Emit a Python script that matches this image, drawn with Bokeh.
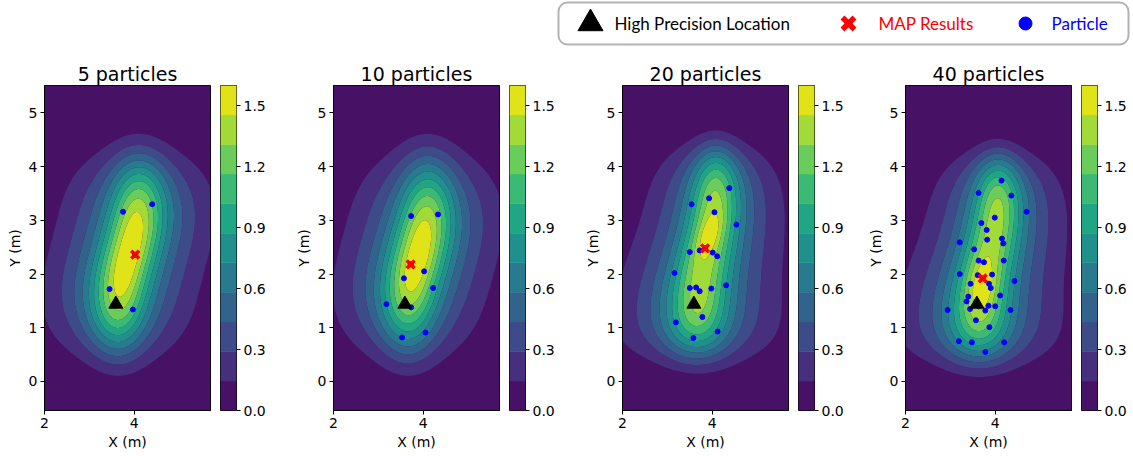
import numpy as np
from bokeh.plotting import figure
from bokeh.layouts import row, column
from bokeh.models import Range1d, FixedTicker, BoxAnnotation, PrintfTickFormatter
from bokeh.embed import file_html
from bokeh.resources import INLINE
from bokeh.palettes import Viridis256
from bokeh.core.properties import value

# ---------------- data ----------------
titles = ["5 particles", "10 particles", "20 particles", "40 particles"]

truth_x = [3.59]
truth_y = [1.44]

map_x = [4.02, 3.72, 3.84, 3.72]
map_y = [2.36, 2.18, 2.48, 1.92]

p5_x = [3.75, 4.40, 3.45, 3.97, 4.02]
p5_y = [3.16, 3.30, 1.72, 1.34, 2.36]

p10_x = [3.73, 4.33, 4.02, 3.57, 4.22, 3.18, 3.73, 4.05, 3.53, 3.72]
p10_y = [3.08, 3.11, 2.05, 1.92, 1.74, 1.44, 1.38, 0.91, 0.82, 2.18]

p20_x = [4.38, 3.93, 3.54, 4.05, 4.54, 3.50, 3.72, 4.01, 4.11, 3.16,
         4.31, 3.50, 3.64, 3.72, 3.98, 3.78, 3.19, 4.12, 3.58, 3.84]
p20_y = [3.60, 3.41, 3.30, 3.15, 2.92, 2.41, 2.44, 2.40, 2.33, 2.02,
         1.79, 1.74, 1.75, 1.68, 1.73, 1.20, 1.10, 0.93, 0.81, 2.48]

p40_x = [4.14, 3.63, 4.36, 4.70, 3.99, 3.69, 3.81, 3.82, 4.15, 4.18,
         3.21, 3.53, 3.63, 3.75, 4.19, 3.21, 3.61, 3.93, 3.45, 3.86,
         3.90, 4.43, 3.40, 3.36, 4.11, 3.44, 3.85, 4.00, 3.78, 2.94,
         4.34, 3.57, 3.87, 3.19, 3.48, 4.20, 3.78, 3.72, 3.58, 3.63]
p40_y = [3.74, 3.51, 3.46, 3.16, 3.05, 2.95, 2.82, 2.64, 2.66, 2.57,
         2.59, 2.46, 2.25, 2.22, 2.25, 2.00, 1.98, 1.99, 1.82, 1.82,
         1.74, 1.87, 1.58, 1.49, 1.60, 1.35, 1.41, 1.40, 1.32, 1.33,
         1.33, 1.14, 1.01, 0.75, 0.73, 0.73, 0.55, 1.92, 1.47, 1.40]

particles_x = [p5_x, p10_x, p20_x, p40_x]
particles_y = [p5_y, p10_y, p20_y, p40_y]

# posterior density description (per panel): elongated ridge + small peak bump
peak_density = 1.6
ridge_cx = [3.87, 3.88, 3.87, 3.85]
ridge_cy = [2.37, 2.33, 2.41, 2.30]
ridge_tilt = [0.30, 0.28, 0.25, 0.27]
ridge_tilt_len = [1.6, 1.6, 1.7, 1.6]
ridge_a_up = [1.92, 2.08, 1.92, 1.88]
ridge_a_down = [1.94, 2.03, 1.92, 1.88]
ridge_p = [4.0, 4.0, 5.0, 5.0]
ridge_c = [0.4, 0.8, 0.0, 0.0]
ridge_w = [1.0, 1.0, 0.88, 0.88]
ridge_taper = [0.0, 0.0, 0.1, 0.1]
bump_cx = [3.87, 3.88, 3.92, 3.70]
bump_cy = [2.37, 2.33, 2.72, 1.76]
bump_tilt = [0.0, 0.0, 0.37, 0.10]
bump_su = [0.30, 0.30, 0.28, 0.34]
bump_sv = [0.20, 0.20, 0.18, 0.22]
bump_w = [0.0, 0.0, 0.12, 0.13]
spread_w = 0.55
spread_s1 = 0.42
spread_s2 = 1.0

levels = [0.0, 0.145, 0.291, 0.436, 0.582, 0.727, 0.873, 1.018, 1.164, 1.309, 1.455, 1.6]
cbar_ticks = [0.0, 0.3, 0.6, 0.9, 1.2, 1.5]
x_ticks = [2, 4]
y_ticks = [0, 1, 2, 3, 4, 5]
x_lim = (2.0, 5.7)
y_lim = (-0.54, 5.51)

# ---------------- styling ----------------
nb = len(levels) - 1
band_colors = [Viridis256[int(round((i + 0.5) / nb * 255))] for i in range(nb)]
FONT = "DejaVu Sans"


def density(k, X, Y):
    dy = Y - ridge_cy[k]
    xc = ridge_cx[k] + ridge_tilt[k] * dy / (1 + (dy / ridge_tilt_len[k]) ** 2)
    scale = np.clip(1 - ridge_taper[k] * dy, 0.5, 2.0)
    v = (X - xc) / scale
    a = np.where(dy > 0, ridge_a_up[k], ridge_a_down[k])
    s = np.abs(dy) / a
    U = np.exp(-(s ** ridge_p[k] + ridge_c[k] * s ** 2))
    V = spread_w * np.exp(-v ** 2 / (2 * spread_s1 ** 2)) + \
        (1 - spread_w) * np.exp(-v ** 2 / (2 * spread_s2 ** 2))
    dyb = Y - bump_cy[k]
    vb = X - bump_cx[k] - bump_tilt[k] * dyb
    B = np.exp(-0.5 * ((dyb / bump_su[k]) ** 2 + (vb / bump_sv[k]) ** 2))
    return peak_density * (ridge_w[k] * U * V + bump_w[k] * B)


xs = np.linspace(x_lim[0], x_lim[1], 240)
ys = np.linspace(y_lim[0], y_lim[1], 380)
XX, YY = np.meshgrid(xs, ys)

left_borders = [44, 44, 44, 44]
cbar_right = [53, 53, 47, 36]

children = []
for k in range(4):
    p = figure(frame_width=166, frame_height=325,
               x_range=Range1d(*x_lim), y_range=Range1d(*y_lim),
               toolbar_location=None, output_backend="svg",
               min_border_left=left_borders[k], min_border_right=10,
               min_border_top=35, min_border_bottom=46,
               background_fill_color=band_colors[0])
    Z = np.clip(density(k, XX, YY), 0.0, levels[-1] - 1e-4)
    p.contour(x=xs, y=ys, z=Z, levels=levels, fill_color=band_colors, line_color=None)
    p.scatter(particles_x[k], particles_y[k], marker="circle", size=5,
              fill_color="blue", line_color="blue")
    p.scatter(truth_x, truth_y, marker="triangle", size=14,
              fill_color="black", line_color="black")
    p.scatter([map_x[k]], [map_y[k]], marker="x", size=11, line_width=3.5,
              line_color="red")

    p.title.text = titles[k]
    p.title.align = "center"
    p.title.text_font = FONT
    p.title.text_font_size = "19px"
    p.title.text_font_style = "normal"
    p.title.text_color = "black"
    p.title.standoff = 2

    p.grid.visible = False
    p.outline_line_color = "black"
    p.outline_line_width = 1
    p.xaxis.ticker = FixedTicker(ticks=x_ticks)
    p.yaxis.ticker = FixedTicker(ticks=y_ticks)
    p.xaxis.axis_label = "X (m)"
    p.yaxis.axis_label = "Y (m)"
    for ax in (p.xaxis[0], p.yaxis[0]):
        ax.major_label_text_font = FONT
        ax.major_label_text_font_size = "14px"
        ax.major_label_text_color = "black"
        ax.axis_label_text_font = FONT
        ax.axis_label_text_font_size = "14px"
        ax.axis_label_text_font_style = "normal"
        ax.axis_label_text_color = "black"
        ax.major_tick_out = 4
        ax.major_tick_in = 0
        ax.minor_tick_out = 0
        ax.minor_tick_in = 0
        ax.major_tick_line_color = "black"
        ax.axis_line_color = "black"
        ax.major_label_standoff = 3
        ax.axis_label_standoff = 3

    # colour bar
    c = figure(frame_width=16, frame_height=325,
               x_range=Range1d(0, 1), y_range=Range1d(levels[0], levels[-1]),
               toolbar_location=None, output_backend="svg",
               x_axis_location=None, y_axis_location="right",
               min_border_left=0, min_border_right=cbar_right[k],
               min_border_top=35, min_border_bottom=46)
    c.quad(left=0, right=1, bottom=levels[:-1], top=levels[1:],
           fill_color=band_colors, line_color=band_colors, line_width=0.5)
    c.grid.visible = False
    c.outline_line_color = "black"
    c.outline_line_width = 1
    ya = c.yaxis[0]
    ya.ticker = FixedTicker(ticks=cbar_ticks)
    ya.formatter = PrintfTickFormatter(format="%.1f")
    ya.major_label_text_font = FONT
    ya.major_label_text_font_size = "14px"
    ya.major_label_text_color = "black"
    ya.major_tick_out = 4
    ya.major_tick_in = 0
    ya.minor_tick_out = 0
    ya.minor_tick_in = 0
    ya.major_tick_line_color = "black"
    ya.axis_line_color = None
    ya.major_label_standoff = 3

    children.extend([p, c])

# ---------------- legend strip ----------------
lg = figure(width=1133, height=50, x_range=Range1d(0, 1133), y_range=Range1d(50, 0),
            toolbar_location=None, output_backend="svg",
            x_axis_location=None, y_axis_location=None,
            min_border=0, min_border_left=0, min_border_right=0,
            min_border_top=0, min_border_bottom=0)
lg.grid.visible = False
lg.outline_line_color = None
lg.add_layout(BoxAnnotation(left=558, right=1128, top=2, bottom=44,
                            fill_color="white", fill_alpha=1.0, level="underlay",
                            line_color="black", line_width=2, border_radius=9))
LY = 23
lg.scatter([590], [LY], marker="triangle", size=25, fill_color="black", line_color="black")
lg.scatter([848], [LY], marker="x", size=17, line_width=5.5, line_color="red")
lg.scatter([1025], [LY], marker="circle", size=13, fill_color="blue", line_color="blue")
LFONT = value("Lato")
lg.text(x=[614], y=[LY], text=["High Precision Location"], text_baseline="middle",
        text_align="left", text_font=LFONT, text_font_size="17px", text_color="black")
lg.text(x=[878], y=[LY], text=["MAP Results"], text_baseline="middle",
        text_align="left", text_font=LFONT, text_font_size="17px", text_color="red")
lg.text(x=[1051], y=[LY], text=["Particle"], text_baseline="middle",
        text_align="left", text_font=LFONT, text_font_size="17px", text_color="blue")

layout = column(lg, row(*children, spacing=0), spacing=0)

open("out.html", "w").write(file_html(layout, INLINE))
